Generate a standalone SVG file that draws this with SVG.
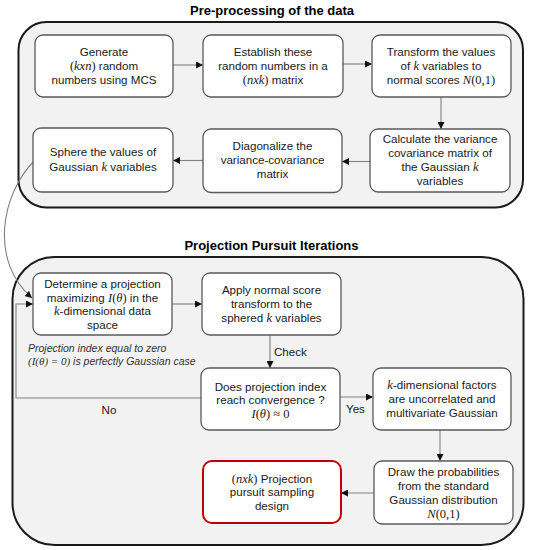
<svg xmlns="http://www.w3.org/2000/svg" width="534" height="550" viewBox="0 0 534 550">
<defs>
<style>
.outer{fill:#f2f2f2;stroke:#1a1a1a;stroke-width:2}
.box{fill:#ffffff;stroke:#595959;stroke-width:1.3}
.red{fill:#ffffff;stroke:#c00000;stroke-width:2}
.t{font-family:"Liberation Sans",Arial,sans-serif;font-size:11.6px;fill:#1a1a1a;text-anchor:middle}
.title{font-family:"Liberation Sans",Arial,sans-serif;font-size:13px;font-weight:bold;fill:#000;text-anchor:middle}
.m{font-family:"Liberation Serif","Times New Roman",serif;font-style:italic;font-size:12.5px}
.p{font-family:"Liberation Serif","Times New Roman",serif;font-size:12.5px}
.note{font-family:"Liberation Sans",Arial,sans-serif;font-size:10.5px;font-style:italic;fill:#333}
.lab{font-family:"Liberation Sans",Arial,sans-serif;font-size:11.6px;fill:#1a1a1a}
.c{fill:none;stroke:#808080;stroke-width:1.1}
</style>
<marker id="ah" viewBox="0 0 8 8" refX="8" refY="4" markerWidth="7" markerHeight="7" markerUnits="userSpaceOnUse" orient="auto">
<path d="M0,0 L8,4 L0,8 z" fill="#111"/>
</marker>
</defs>

<g id="section1">
<text class="title" x="272" y="15">Pre-processing of the data</text>
<rect class="outer" x="18.5" y="22" width="504.5" height="185.5" rx="28"/>
</g>
<g id="section2">
<text class="title" x="271.5" y="250">Projection Pursuit Iterations</text>
<rect class="outer" x="12.5" y="257" width="511" height="288" rx="42"/>
</g>

<g id="connectors">
<line class="c" x1="173" y1="65" x2="203" y2="65" marker-end="url(#ah)"/>
<line class="c" x1="343" y1="64" x2="372" y2="64" marker-end="url(#ah)"/>
<line class="c" x1="441" y1="97" x2="441" y2="129" marker-end="url(#ah)"/>
<line class="c" x1="370" y1="161.5" x2="342" y2="161.5" marker-end="url(#ah)"/>
<line class="c" x1="203" y1="160.5" x2="173" y2="160.5" marker-end="url(#ah)"/>
<path class="c" d="M35,160 C0,195 -10,262 32,298" marker-end="url(#ah)"/>
<line class="c" x1="172" y1="304" x2="202" y2="304" marker-end="url(#ah)"/>
<line class="c" x1="270" y1="335" x2="270" y2="368" marker-end="url(#ah)"/>
<line class="c" x1="340" y1="397" x2="373" y2="397" marker-end="url(#ah)"/>
<polyline class="c" points="201,398 16,398 16,304 33,304" marker-end="url(#ah)"/>
<line class="c" x1="440" y1="430" x2="440" y2="461" marker-end="url(#ah)"/>
<line class="c" x1="374" y1="493" x2="341" y2="493" marker-end="url(#ah)"/>
<text class="lab" x="274" y="356">Check</text>
<text class="lab" x="346" y="413">Yes</text>
<text class="lab" x="109" y="414" text-anchor="middle">No</text>
<text class="note" x="28" y="352">Projection index equal to zero</text>
<text class="note" x="28" y="365"><tspan class="p" style="font-size:11px">(</tspan><tspan class="m" style="font-size:11px">I</tspan><tspan class="p" style="font-size:11px">(</tspan><tspan class="m" style="font-size:11px">θ</tspan><tspan class="p" style="font-size:11px">) = 0)</tspan> is perfectly Gaussian case</text>
</g>

<g id="nodeA">
<rect class="box" x="35" y="35" width="138" height="62" rx="8"/>
<text class="t" x="104" y="56">Generate</text>
<text class="t" x="104" y="70"><tspan class="p">(</tspan><tspan class="m">kxn</tspan><tspan class="p">)</tspan> random</text>
<text class="t" x="104" y="84">numbers using MCS</text>
</g>
<g id="nodeB">
<rect class="box" x="203" y="35" width="140" height="62" rx="8"/>
<text class="t" x="273" y="56">Establish these</text>
<text class="t" x="273" y="70">random numbers in a</text>
<text class="t" x="273" y="84"><tspan class="p">(</tspan><tspan class="m">nxk</tspan><tspan class="p">)</tspan> matrix</text>
</g>
<g id="nodeC">
<rect class="box" x="372" y="35" width="139" height="62" rx="8"/>
<text class="t" x="441" y="56">Transform the values</text>
<text class="t" x="441" y="70">of <tspan class="m">k</tspan> variables to</text>
<text class="t" x="441" y="84">normal scores <tspan class="m">N</tspan><tspan class="p">(0,1)</tspan></text>
</g>
<g id="nodeD">
<rect class="box" x="33" y="128" width="140" height="64" rx="8"/>
<text class="t" x="103" y="156">Sphere the values of</text>
<text class="t" x="103" y="170.5">Gaussian <tspan class="m">k</tspan> variables</text>
</g>
<g id="nodeE">
<rect class="box" x="203" y="129" width="139" height="63.5" rx="8"/>
<text class="t" x="272.5" y="150">Diagonalize the</text>
<text class="t" x="272.5" y="164">variance-covariance</text>
<text class="t" x="272.5" y="178">matrix</text>
</g>
<g id="nodeF">
<rect class="box" x="370" y="129" width="140" height="63" rx="8"/>
<text class="t" x="440" y="143">Calculate the variance</text>
<text class="t" x="440" y="157">covariance matrix of</text>
<text class="t" x="440" y="171">the Gaussian <tspan class="m">k</tspan></text>
<text class="t" x="440" y="185">variables</text>
</g>

<g id="nodeG">
<rect class="box" x="33" y="273" width="139" height="62" rx="8"/>
<text class="t" x="102.5" y="288">Determine a projection</text>
<text class="t" x="102.5" y="301.5">maximizing <tspan class="m">I</tspan><tspan class="p">(</tspan><tspan class="m">θ</tspan><tspan class="p">)</tspan> in the</text>
<text class="t" x="102.5" y="315"><tspan class="m">k</tspan>-dimensional data</text>
<text class="t" x="102.5" y="328.5">space</text>
</g>
<g id="nodeH">
<rect class="box" x="202" y="273" width="139" height="62" rx="8"/>
<text class="t" x="271.5" y="294">Apply normal score</text>
<text class="t" x="271.5" y="308">transform to the</text>
<text class="t" x="271.5" y="322">sphered <tspan class="m">k</tspan> variables</text>
</g>
<g id="nodeI">
<rect class="box" x="201" y="368" width="139" height="62" rx="8"/>
<text class="t" x="270.5" y="390.5">Does projection index</text>
<text class="t" x="270.5" y="404">reach convergence ?</text>
<text class="t" x="270.5" y="417.5"><tspan class="m">I</tspan><tspan class="p">(</tspan><tspan class="m">θ</tspan><tspan class="p">) ≈ 0</tspan></text>
</g>
<g id="nodeJ">
<rect class="box" x="373" y="368" width="138" height="62" rx="8"/>
<text class="t" x="442" y="389"><tspan class="m">k</tspan>-dimensional factors</text>
<text class="t" x="442" y="403">are uncorrelated and</text>
<text class="t" x="442" y="417">multivariate Gaussian</text>
</g>
<g id="nodeK">
<rect class="box" x="374" y="461" width="139" height="63" rx="8"/>
<text class="t" x="443.5" y="475.5">Draw the probabilities</text>
<text class="t" x="443.5" y="489.5">from the standard</text>
<text class="t" x="443.5" y="503.5">Gaussian distribution</text>
<text class="t" x="443.5" y="517.5"><tspan class="m">N</tspan><tspan class="p">(0,1)</tspan></text>
</g>
<g id="nodeL">
<rect class="red" x="203" y="461" width="138" height="62" rx="9"/>
<text class="t" x="272" y="482.5"><tspan class="p">(</tspan><tspan class="m">nxk</tspan><tspan class="p">)</tspan> Projection</text>
<text class="t" x="272" y="496">pursuit sampling</text>
<text class="t" x="272" y="510">design</text>
</g>
</svg>
